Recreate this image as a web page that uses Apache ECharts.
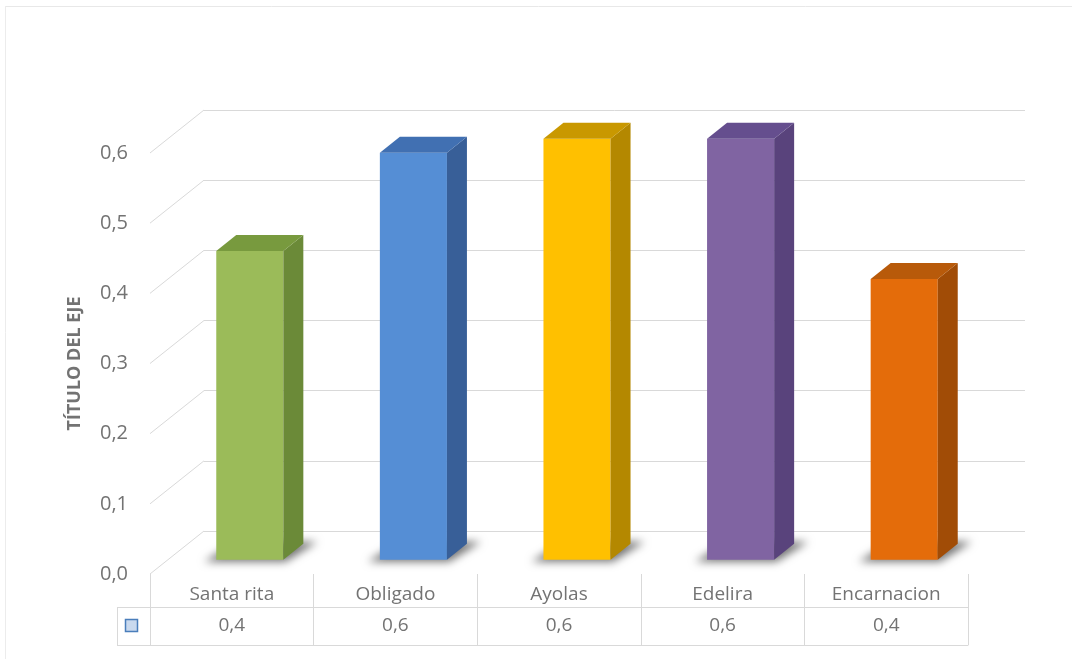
<!DOCTYPE html>
<html><head><meta charset="utf-8">
<script src="https://cdn.jsdelivr.net/npm/echarts@6/dist/echarts.min.js"></script>
<style>html,body{margin:0;padding:0;background:#fff}#c{width:1072px;height:659px}</style>
</head><body><div id="c"></div>
<script>
// ---- data ----
const categories = ['Santa rita', 'Obligado', 'Ayolas', 'Edelira', 'Encarnacion'];
const values = [0.44, 0.58, 0.60, 0.60, 0.40];
const yTicks = [0, 0.1, 0.2, 0.3, 0.4, 0.5, 0.6];
const axisTitle = 'TÍTULO DEL EJE';

// ---- styles ----
const frontColors = ['#9BBB59', '#558ED5', '#FFC000', '#8064A2', '#E46C0A'];
const sideColors  = ['#6B8A38', '#385F98', '#B48800', '#59437C', '#A14C06'];
const topColors   = ['#789A3E', '#4170B2', '#C99800', '#654E8E', '#B85A0A'];
const TXT = '#737373', GRID = '#d9d9d9';
const FONT = '"Open Sans", "Noto Sans", sans-serif';
const DX = 54, DY = -43;           // depth vector front -> back wall
const fmt = v => v.toFixed(1).replace('.', ',');

const chart = echarts.init(document.getElementById('c'), null, { renderer: 'canvas' });

function barItem(params, api) {
  const i = api.value(0), v = api.value(1);
  const base = api.coord([i, 0]), top = api.coord([i, v]);
  const bw = api.size([1, 0])[0];
  const hw = bw * 0.205;
  const ox = DX / 3, oy = DY / 3;
  const dx = 20, dy = -16;
  const L = base[0] - hw + ox, R = base[0] + hw + ox;
  const yb = base[1] + oy, yt = top[1] + oy;
  const k = params.dataIndex;
  const far = 3000;
  return {
    type: 'group',
    children: [
      {
        type: 'polygon',
        shape: { points: [[L - 12 - far, yb + 2], [R + 2 - far, yb + 2], [R + dx + 14 - far, yb + dy - 2], [L + dx - far, yb + dy - 2]] },
        style: { fill: '#000', shadowBlur: 9, shadowColor: 'rgba(0,0,0,0.55)', shadowOffsetX: far, shadowOffsetY: 0 },
        z2: 0
      },
      {
        type: 'rect',
        shape: { x: L, y: yt, width: R - L, height: yb - yt },
        style: { fill: frontColors[k] },
        z2: 2
      },
      {
        type: 'polygon',
        shape: { points: [[R, yt], [R + dx, yt + dy], [R + dx, yb + dy], [R, yb]] },
        style: { fill: sideColors[k] },
        z2: 2
      },
      {
        type: 'polygon',
        shape: { points: [[L, yt], [L + dx, yt + dy], [R + dx, yt + dy], [R, yt]] },
        style: { fill: topColors[k] },
        z2: 2
      }
    ]
  };
}

function diagItem(params, api) {
  const v = api.value(1);
  const p = api.coord([0, v]);
  const bw = api.size([1, 0])[0];
  const x0 = p[0] - bw / 2;
  return {
    type: 'line',
    shape: { x1: x0, y1: p[1], x2: x0 + DX, y2: p[1] + DY },
    style: { stroke: GRID, lineWidth: 1 }
  };
}

const option = {
  backgroundColor: '#ffffff',
  animation: false,
  textStyle: { fontFamily: FONT },
  grid: [
    { left: 150, right: 104, top: 153, bottom: 85 },   // front plane
    { left: 204, right: 47, top: 110, bottom: 128 }    // back wall
  ],
  xAxis: [
    {
      gridIndex: 0, type: 'category', data: categories,
      axisLine: { show: false },
      axisTick: { show: true, length: 71, lineStyle: { color: GRID } },
      axisLabel: { color: TXT, fontSize: 19, margin: 11, fontFamily: FONT },
      splitLine: { show: false }
    },
    {
      gridIndex: 0, type: 'category', data: values.map(fmt), position: 'bottom', offset: 33,
      axisLine: { show: true, lineStyle: { color: GRID } },
      axisTick: { show: true, length: 38, lineStyle: { color: GRID } },
      axisLabel: { color: TXT, fontSize: 19, margin: 9, fontFamily: FONT },
      splitLine: { show: false }
    },
    {
      gridIndex: 0, type: 'category', data: categories, position: 'bottom', offset: 71,
      axisLine: { show: true, lineStyle: { color: GRID } },
      axisTick: { show: false }, axisLabel: { show: false }, splitLine: { show: false }
    },
    {
      gridIndex: 1, type: 'category', data: categories, show: false
    }
  ],
  yAxis: [
    {
      gridIndex: 0, type: 'value', min: 0, max: 0.6, interval: 0.1,
      axisLine: { show: false }, axisTick: { show: false }, splitLine: { show: false },
      axisLabel: { color: TXT, fontSize: 20, margin: 22, formatter: fmt, fontFamily: FONT },
      name: axisTitle, nameLocation: 'middle', nameRotate: 90, nameGap: 66,
      nameTextStyle: { color: TXT, fontSize: 18, fontWeight: 'bold', fontFamily: FONT }
    },
    {
      gridIndex: 1, type: 'value', min: 0, max: 0.6, interval: 0.1,
      axisLine: { show: false }, axisTick: { show: false }, axisLabel: { show: false },
      splitLine: { show: true, lineStyle: { color: GRID, width: 1 } }
    }
  ],
  series: [
    {
      type: 'custom', xAxisIndex: 0, yAxisIndex: 0, clip: false, z: 1,
      renderItem: diagItem,
      data: yTicks.map(v => [0, v]),
      silent: true
    },
    {
      type: 'custom', xAxisIndex: 0, yAxisIndex: 0, clip: false, z: 3,
      renderItem: barItem,
      data: values.map((v, i) => [i, v])
    }
  ],
  graphic: [
    { type: 'line', shape: { x1: 5, y1: 6.5, x2: 1072, y2: 6.5 }, style: { stroke: '#e8e8e8', lineWidth: 1 } },
    { type: 'line', shape: { x1: 5.5, y1: 6, x2: 5.5, y2: 659 }, style: { stroke: '#ececec', lineWidth: 1 } },
    { type: 'line', shape: { x1: 117, y1: 607.5, x2: 150, y2: 607.5 }, style: { stroke: GRID, lineWidth: 1 } },
    { type: 'line', shape: { x1: 117, y1: 645.5, x2: 150, y2: 645.5 }, style: { stroke: GRID, lineWidth: 1 } },
    { type: 'line', shape: { x1: 117.5, y1: 607, x2: 117.5, y2: 646 }, style: { stroke: GRID, lineWidth: 1 } },
    { type: 'rect', shape: { x: 125.5, y: 619.5, width: 12, height: 12 }, style: { fill: '#C9D9EE', stroke: '#4A7EBB', lineWidth: 1.5 } }
  ]
};
chart.setOption(option);
</script>
</body></html>
